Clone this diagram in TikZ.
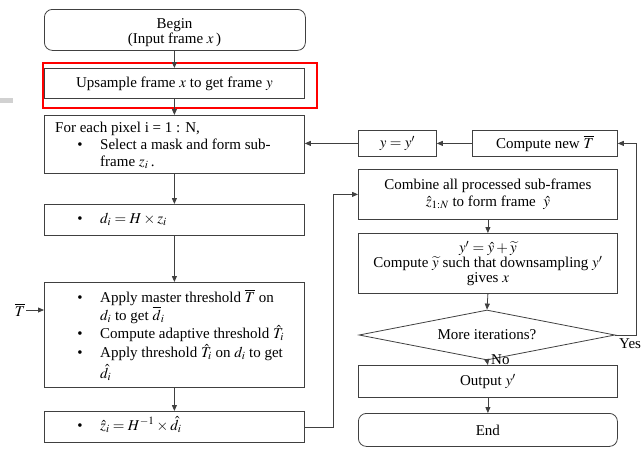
\documentclass[tikz,border=0pt]{standalone}
\usepackage{mathptmx}
\usepackage{fontspec}
\setmainfont{Liberation Serif}
\usetikzlibrary{arrows.meta,shapes.geometric}

\begin{document}
\begin{tikzpicture}[x=1pt,y=-1pt,
  every node/.style={font=\fontsize{15}{15}\selectfont},
  box/.style={draw=black!75, line width=0.8pt, inner sep=0pt, anchor=north west, align=center},
  rbox/.style={box, rounded corners=8pt},
  txt/.style={anchor=base west, inner sep=0pt},
  ctxt/.style={anchor=base, inner sep=0pt},
  dot/.style={anchor=base, inner sep=0pt},
  arr/.style={draw=black!75, line width=0.8pt, -{Triangle[length=6pt,width=5pt]}}]

\useasboundingbox (0,0) rectangle (642,448);
\fill[black!18] (0,98) rectangle (13,103);

% ---------- left column ----------
\node[rbox, minimum width=261, minimum height=41] (begin) at (44,9) {};
\node[ctxt] (begin1) at (174.5,28) {Begin};
\node[ctxt] (begin2) at (174.5,43) {(Input frame $x$\,)};
\node[box, minimum width=260, minimum height=30] (up) at (44,68)
  {Upsample frame $x$ to get frame $y$};
\node[draw=red, line width=2pt, inner sep=0pt, minimum width=274, minimum height=45,
  anchor=north west] (hl) at (42,62) {};

\node[box, minimum width=260, minimum height=58] (each) at (44,115) {};
\node[txt] (each1) at (55,132) {For each pixel i = 1 : N,};
\node[dot] (each2b) at (80,149) {\textbullet};
\node[txt] (each2) at (100,149) {Select a mask and form sub-};
\node[txt] (each3) at (100,166) {frame $z_i$\,.};

\node[box, minimum width=260, minimum height=31] (di) at (44,204) {};
\node[dot] (di1b) at (80,223) {\textbullet};
\node[txt] (di1) at (100,223) {$d_i = H \times z_i$};

\node[box, minimum width=260, minimum height=105] (thr) at (44,282) {};
\node[dot] (thr1b) at (80,302) {\textbullet};
\node[txt] (thr1) at (100,302) {Apply master threshold $\overline{T}$ on};
\node[txt] (thr2) at (100,320) {$d_i$ to get $\overline{d}_i$};
\node[dot] (thr3b) at (80,338) {\textbullet};
\node[txt] (thr3) at (100,338) {Compute adaptive threshold $\hat{T}_i$};
\node[dot] (thr4b) at (80,357) {\textbullet};
\node[txt] (thr4) at (100,357) {Apply threshold $\hat{T}_i$ on $d_i$ to get};
\node[txt] (thr5) at (100,378) {$\hat{d}_i$};

\node[box, minimum width=260, minimum height=31] (zh) at (44,411) {};
\node[dot] (zh1b) at (80,430) {\textbullet};
\node[txt] (zh1) at (100,430) {$\hat{z}_i = H^{-1} \times \hat{d}_i$};

\node[inner sep=1pt] (tb) at (20,310) {$\overline{T}$};

% ---------- right column ----------
\node[box, minimum width=78, minimum height=26] (yy) at (358,130) {$y = y'$};
\node[box, minimum width=145, minimum height=26] (cnt) at (472,130) {Compute new $\overline{T}$};
\node[box, minimum width=259, minimum height=50] (comb) at (358,169)
  {Combine all processed sub-frames\\[2pt]$\hat{z}_{1:N}$ to form frame~ $\hat{y}$};
\node[box, minimum width=259, minimum height=60] (yp) at (358,233)
  {$y' = \hat{y} + \widetilde{y}$\\Compute $\widetilde{y}$ such that downsampling $y'$\\gives $x$};
\node[draw=black!75, line width=0.8pt, shape=diamond, shape aspect=5, inner sep=0pt,
  minimum width=256, minimum height=50] (dia) at (487,335) {More iterations?};
\node[box, minimum width=259, minimum height=32] (out) at (358,365) {Output $y'$};
\node[rbox, minimum width=259, minimum height=33] (end) at (358,413) {End};

\node[anchor=west, inner sep=0pt] (no) at (491,360) {No};
\node[anchor=west, inner sep=0pt] (yes) at (619,344) {Yes};

% ---------- connectors ----------
\draw[arr] (begin.south -| up.north) -- (up.north);
\draw[arr] (up.south) -- (each.north);
\draw[arr] (each.south) -- (di.north);
\draw[arr] (di.south) -- (thr.north);
\draw[arr] (thr.south) -- (zh.north);
\draw[arr] (tb.east) -- (tb.east -| thr.west);

\coordinate (lc) at (333,0);
\draw[arr] (zh.east) -| (lc |- comb.west) -- (comb.west);
\draw[arr] (comb.south) -- (yp.north);
\draw[arr] (yp.south) -- (dia.north);
\draw[arr] (dia.south) -- (out.north);
\draw[arr] (out.south) -- (end.north);

\coordinate (rc) at (636,0);
\draw[arr] (dia.east) -| (rc |- cnt.east) -- (cnt.east);
\draw[arr] (cnt.west) -- (yy.east);
\draw[arr] (yy.west) -- (yy.west -| each.east);
\end{tikzpicture}
\end{document}
